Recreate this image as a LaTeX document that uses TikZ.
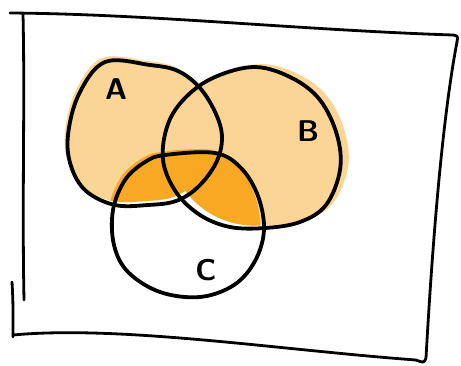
\documentclass[tikz,border=0pt]{standalone}
\usepackage{tikz}
\usetikzlibrary{positioning}

\definecolor{lightorange}{HTML}{FBD595}
\definecolor{darkorange}{HTML}{F8A823}

% the three sets, in pixel coordinates
\newcommand{\setA}{plot[smooth cycle, tension=0.6] coordinates {(105,62) (150,65) (178,71) (200,88) (216,114) (222,138) (216,163) (198,187) (176,201) (148,205) (115,205) (86,191) (71,166) (68,135) (79,94)}}
\newcommand{\setB}{plot[smooth cycle, tension=0.6] coordinates {(215,77) (255,67) (292,78) (320,100) (337,135) (340,170) (326,205) (300,222) (265,228) (230,227) (200,215) (176,192) (163,160) (168,124) (186,97)}}
\newcommand{\setC}{plot[smooth cycle, tension=0.6] coordinates {(165,155) (215,153) (241,168) (258,196) (264,230) (255,261) (234,285) (200,297) (160,292) (128,272) (114,245) (113,210) (125,180) (145,162)}}

\begin{document}
\begin{tikzpicture}[
    x=0.5pt, y=-0.5pt,
    outline/.style={draw=black, line width=1.9pt, line cap=round, line join=round},
    frame/.style={draw=black, line width=1.4pt, line cap=round, line join=round},
    letter/.style={font=\sffamily\bfseries\fontsize{15}{15}\selectfont, inner sep=0pt}
]
    \useasboundingbox (0,0) rectangle (461,365);

    % light fill of A and B, a little off the lines
    \fill[lightorange, shift={(-3,-4)}] \setA;
    \fill[lightorange, shift={(8,-3)}] \setB;

    % darker part: A or B, inside C
    \begin{scope}
        \clip[shift={(-4,-3)}] \setC;
        \fill[darkorange, shift={(-3,-4)}] \setA;
        \fill[darkorange, shift={(8,-3)}] \setB;
    \end{scope}

    % outlines
    \draw[outline] \setA;
    \draw[outline] \setB;
    \draw[outline] \setC;

    % labels
    \node[letter] (labelA) at (116,89) {A};
    \node[letter] (labelB) at (308,131) {B};
    \node[letter] (labelC) at (206,270) {C};

    % hand drawn frame
    \draw[frame] (10,13) .. controls (150,14) and (300,30) .. (453,35) .. controls (458,36) .. (457,42);
    \draw[frame] (457,42) .. controls (442,120) and (432,250) .. (426,358) .. controls (424,363) .. (416,360);
    \draw[frame] (13,335) .. controls (120,325) and (280,350) .. (416,360);
    \draw[frame] (23,14) .. controls (25,100) and (22,200) .. (24,300);
    \draw[frame] (12,282) .. controls (13,300) .. (13,337);
\end{tikzpicture}
\end{document}
